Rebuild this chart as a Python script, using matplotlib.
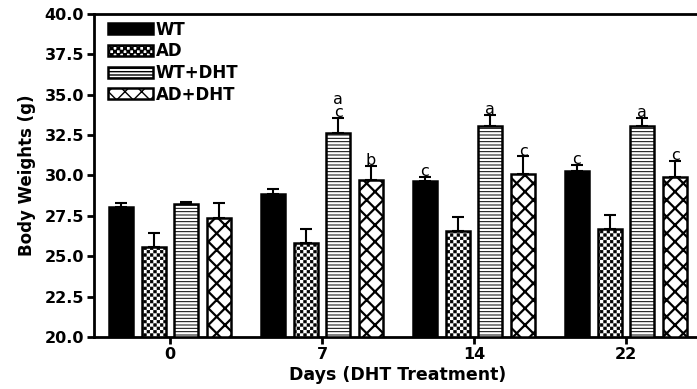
import numpy as np
import matplotlib
matplotlib.use("Agg")
import matplotlib.pyplot as plt
import matplotlib.hatch as mhatch
from matplotlib.path import Path

# ---------------- data ----------------
days = ["0", "7", "14", "22"]
groups = ["WT", "AD", "WT+DHT", "AD+DHT"]
wt = [28.05, 28.85, 29.63, 30.25]
wt_err = [0.25, 0.33, 0.30, 0.40]
ad = [25.55, 25.80, 26.57, 26.67]
ad_err = [0.88, 0.90, 0.88, 0.90]
wt_dht = [28.25, 32.65, 33.05, 33.05]
wt_dht_err = [0.10, 0.90, 0.72, 0.52]
ad_dht = [27.35, 29.73, 30.08, 29.88]
ad_dht_err = [0.95, 0.85, 1.10, 1.00]
letters_wt = ["", "", "c", "c"]
letters_ad = ["", "", "", ""]
letters_wt_dht = ["", "a\nc", "a", "a"]
letters_ad_dht = ["", "b", "c", "c"]

# ---------------- custom checker hatch ----------------
class CheckerHatch(mhatch.HatchPatternBase):
    def __init__(self, hatch, density):
        k = hatch.count('*')
        n = int(k * density)
        if n % 2:
            n += 1
        self.n = n
        self.cells = [(i, j) for i in range(n) for j in range(n) if (i + j) % 2 == 0] if k else []
        self.num_vertices = len(self.cells) * 5

    def set_vertices_and_codes(self, vertices, codes):
        s = 1.0 / self.n
        m = 0.12 * s
        k = 0
        for i, j in self.cells:
            x0, y0 = i * s + m, j * s + m
            x1, y1 = (i + 1) * s - m, (j + 1) * s - m
            vertices[k:k + 5] = [(x0, y0), (x1, y0), (x1, y1), (x0, y1), (x0, y0)]
            codes[k:k + 5] = [Path.MOVETO, Path.LINETO, Path.LINETO, Path.LINETO, Path.CLOSEPOLY]
            k += 5

mhatch._hatch_types = [t for t in mhatch._hatch_types if t is not mhatch.Stars] + [CheckerHatch]

plt.rcParams['font.family'] = ['DejaVu Sans']

fig = plt.figure(figsize=(6.97, 3.89), dpi=100)
ax = fig.add_axes([94 / 697, 1 - 337 / 389, 608 / 697, 323 / 389])

x = np.arange(len(days))
width = 0.158
step = 0.215
series = [
    (wt, wt_err, letters_wt, dict(facecolor='black', hatch=None), 1.0),
    (ad, ad_err, letters_ad, dict(facecolor='white', hatch='*****'), 0.5),
    (wt_dht, wt_dht_err, letters_wt_dht, dict(facecolor='white', hatch='-----'), 0.7),
    (ad_dht, ad_dht_err, letters_ad_dht, dict(facecolor='white', hatch='xx'), 1.6),
]

for i, (vals, errs, lets, style, hlw) in enumerate(series):
    pos = x + (i - 1.5) * step
    with plt.rc_context({'hatch.linewidth': hlw, 'hatch.color': 'black'}):
        bars = ax.bar(pos, np.array(vals) - 20, width, bottom=20, edgecolor='black',
                      linewidth=1.8, label=groups[i], zorder=3, **style)
        for b in bars:
            try:
                b.set_hatch_linewidth(hlw)
            except AttributeError:
                pass
    ax.errorbar(pos, vals, yerr=[np.zeros(len(vals)), errs], fmt='none', ecolor='black',
                elinewidth=1.5, capsize=4, capthick=1.5, zorder=2)
    for p, v, e, t in zip(pos, vals, errs, lets):
        if t:
            ax.text(p, v + e + 0.05, t, ha='center', va='baseline', fontsize=11.5,
                    linespacing=0.85, zorder=4)

ax.set_ylim(20, 40)
ax.set_xlim(-0.5, 3.5)
ax.set_yticks(np.arange(20, 40.1, 2.5))
ax.set_yticklabels([f"{v:.1f}" for v in np.arange(20, 40.1, 2.5)], fontweight='bold', fontsize=11.5)
ax.set_xticks(x)
ax.set_xticklabels(days, fontweight='bold', fontsize=11.5)
ax.tick_params(axis='both', direction='out', length=5, width=2, pad=2)
for s in ['left', 'bottom', 'top']:
    ax.spines[s].set_linewidth(2)
ax.spines['right'].set_visible(False)

ax.set_ylabel("Body Weights (g)", fontweight='bold', fontsize=12, labelpad=6)
ax.set_xlabel("Days (DHT Treatment)", fontweight='bold', fontsize=12.5, labelpad=3)

leg = ax.legend(loc='upper left', frameon=False, prop={'weight': 'bold', 'size': 12},
                handlelength=2.7, handleheight=0.66, labelspacing=0.22, handletextpad=0.15,
                borderaxespad=0.0, bbox_to_anchor=(0.012, 1.0))

fig.savefig("out.png", dpi=100)
